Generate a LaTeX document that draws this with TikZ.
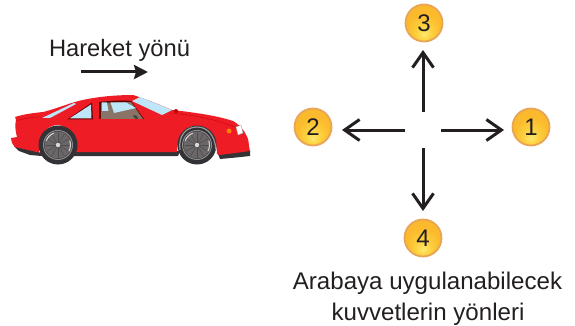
\documentclass[tikz,border=0pt]{standalone}
\usepackage{fontspec}
\setmainfont{Liberation Sans}
\usetikzlibrary{arrows.meta}
\definecolor{ink}{HTML}{231F20}
\definecolor{carred}{HTML}{EE1C25}
\definecolor{glass}{HTML}{BDE6F8}
\definecolor{rim}{HTML}{E8A555}
\definecolor{trim}{HTML}{333236}
\definecolor{cabin}{HTML}{8A7468}
\definecolor{hub}{HTML}{6B6667}
\definecolor{goldA}{HTML}{FBE96E}
\definecolor{goldB}{HTML}{FDD13F}
\definecolor{goldC}{HTML}{FBBB2D}
\definecolor{goldD}{HTML}{F9B52E}
\pgfdeclareradialshading{goldball}{\pgfpoint{0bp}{-16bp}}{
  color(0bp)=(goldA);
  color(10bp)=(goldB);
  color(22bp)=(goldC);
  color(50bp)=(goldD)}
\tikzset{
  ball/.style={circle,draw=rim,line width=1.8pt,minimum size=37pt,inner sep=0pt,shading=goldball,font=\fontsize{24}{24}\selectfont,text=ink},
  force/.style={draw=ink,line width=3pt,-{Straight Barb[length=15pt,width=21pt,line width=3pt]}},
  motion/.style={draw=ink,line width=3pt,-{Stealth[length=14pt,width=14pt,inset=2pt]}},
  lbl/.style={font=\fontsize{23.7}{23.7}\selectfont,text=ink,inner sep=0pt},
  caplbl/.style={lbl,font=\fontsize{24.1}{24.1}\selectfont}
}
\begin{document}
\begin{tikzpicture}[x=1pt,y=-1pt]
\useasboundingbox (0,0) rectangle (575,326);
% texts
\node[lbl] (title) at (119.5,50) {Hareket yönü};
\node[caplbl] (cap1) at (427.5,283) {Arabaya uygulanabilecek};
\node[caplbl] (cap2) at (428,314) {kuvvetlerin yönleri};
% motion arrow
\coordinate (ms) at (81,72);
\coordinate (me) at (148,72);
\draw[motion] (ms) -- (me);
% car: dark lower trim
\fill[trim] (14,146) -- (42,153) -- (42,156) -- (30,155) -- (19,151) -- cycle;
\fill[trim] (70,151) -- (180,151) -- (178,156) -- (70,156) -- cycle;
\fill[trim] (218,154) -- (250,150) -- (250,156) -- (236,157.5) -- (220,159) -- cycle;
% car body
\fill[carred] (15,117)
  .. controls (24,114) and (34,113) .. (43,112)
  .. controls (52,110) and (65,105) .. (75,102)
  .. controls (92,97) and (115,95) .. (133,95)
  .. controls (146,99) and (160,105) .. (172,110)
  .. controls (190,112) and (215,115) .. (233,121)
  .. controls (240,125) and (245,131) .. (248,139)
  .. controls (249,143) and (249,148) .. (250,151)
  -- (220,155) -- (217,154)
  .. controls (217,140) and (210,127) .. (197,126)
  .. controls (186,125) and (178,134) .. (177,152)
  -- (76,152)
  .. controls (75,138) and (70,126) .. (58,125)
  .. controls (46,125) and (38,136) .. (39,152.5)
  -- (15,147)
  .. controls (12,144) and (11,141) .. (11,138)
  -- (17,137)
  .. controls (15,130) and (15,124) .. (16,120) -- cycle;
% body lines
\draw[red!75!black,line width=.3pt] (16,121) .. controls (24,118) and (34,117) .. (42,117);
\draw[red!75!black,line width=.3pt] (170,113) .. controls (195,115) and (218,120) .. (235,127);
% wheels
\foreach \n/\cx in {rear/58,front/197}{
  \fill[trim] (\cx,145) circle (19.5);
  \draw[black!45,line width=1pt] (\cx,145) circle (14.5);
  \fill[hub] (\cx,145) circle (13.5);
  \foreach \a in {0,30,...,330}{\draw[black!70,line width=.5pt] (\cx,145) -- ++(\a:12.5);}
  \draw[black!15,line width=1pt] (\cx,145) ++(200:12.5) arc (200:250:12.5);
  \draw[black!15,line width=1pt] (\cx,145) ++(-20:12.5) arc (-20:30:12.5);
  \fill[white!85!black] (\cx,145) circle (2.2);
}
% arch highlight
\draw[black!40,line width=1.2pt] (180,150) .. controls (178,136) and (186,127) .. (197,127) .. controls (208,127) and (215,136) .. (216,150);
% windows
\fill[glass] (132,101) -- (140,97) -- (172,110) -- (162,115) -- cycle;
\fill[glass] (42,118) -- (74,103) -- (76,104) -- (50,118) -- cycle;
\fill[black!60!red] (67,119.5) -- (92,102.5) -- (93,119.5) -- cycle;
\fill[glass] (69.5,118.5) -- (91,104.5) -- (91.5,118.5) -- cycle;
\fill[red!35!black] (99,118.5) -- (99,102) .. controls (108,101) and (122,100) .. (131,101) -- (144,119) -- cycle;
\fill[cabin] (101,119) -- (101,103) -- (131,102) -- (143,119) -- cycle;
\fill[glass] (102,102.5) -- (107,102.5) -- (108.5,111) -- (102,111) -- cycle;
\fill[glass] (110.5,102.5) -- (126,102.5) -- (136,108) -- (114,113) -- cycle;
\fill[black!75] (133,115) -- (137,116) -- (138,119) -- (135,118.5) -- cycle;
% mirror and lights
\fill[red!75!black] (176,111) circle (2);
\fill[orange] (229,131) circle (2.5);
\fill[white] (236,127) -- (241,125) -- (243,133) -- (238,135) -- cycle;
\draw[black!40,line width=.3pt] (236,127) -- (241,125) -- (243,133) -- (238,135) -- cycle;
% balls
\node[ball] (n3) at (424,23) {3};
\node[ball] (n2) at (313,127) {2};
\node[ball] (n1) at (531,127) {1};
\node[ball] (n4) at (423,238) {4};
% force arrows
\node[minimum size=36pt,inner sep=0pt] (o) at (423,130) {};
\coordinate (t3) at (423,50);
\coordinate (t2) at (342,130);
\coordinate (t1) at (504,130);
\coordinate (t4) at (423,211);
\draw[force] (o.north) -- (t3);
\draw[force] (o.west) -- (t2);
\draw[force] (o.east) -- (t1);
\draw[force] (o.south) -- (t4);
\end{tikzpicture}
\end{document}
